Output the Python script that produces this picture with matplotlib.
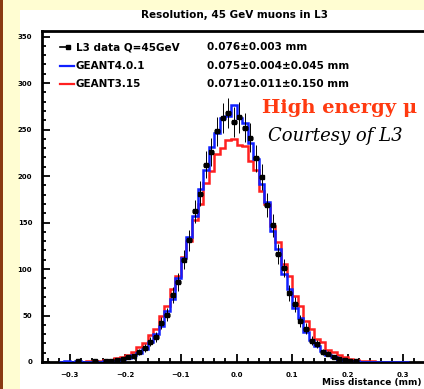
import numpy as np
import matplotlib
matplotlib.use("Agg")
import matplotlib.pyplot as plt
from matplotlib.patches import Rectangle
from matplotlib.lines import Line2D

# bin edges (0.01 wide) and counts per bin
bin_lo = -0.32
bin_w = 0.01
data_l3 = [0, 0, 0, 1, 0, 0, 1,
           0, 1, 1, 2, 3, 5, 6, 11, 15, 22, 27, 42, 51, 72, 86, 110, 131, 162, 181,
           212, 226, 248, 262, 268, 258, 263, 252, 241, 219, 199, 169, 147, 116, 101,
           74, 62, 44, 36, 23, 19, 11, 9, 5, 3, 2, 1, 1, 0, 0,
           0, 0, 0, 0, 0, 0, 0]
geant4 = [0, 1, 0, 1, 0, 0, 0,
          0, 1, 1, 1, 3, 4, 7, 10, 14, 21, 30, 39, 55, 68, 90, 112, 134, 157, 186,
          206, 231, 246, 262, 265, 276, 262, 257, 236, 218, 191, 172, 141, 121, 95,
          78, 58, 47, 32, 24, 17, 12, 8, 5, 3, 2, 1, 1, 0, 0,
          0, 0, 0, 0, 0, 0, 0]
geant3 = [0, 0, 0, 0, 0, 1, 1,
          1, 2, 2, 4, 5, 8, 11, 16, 20, 29, 36, 50, 60, 78, 92, 113, 130, 153, 170,
          192, 205, 224, 230, 239, 240, 233, 232, 216, 206, 184, 170, 146, 129, 105,
          92, 71, 60, 44, 36, 25, 21, 13, 11, 7, 5, 3, 2, 1, 1,
          1, 0, 0, 0, 0, 0, 0]

legend_names = ["L3 data Q=45GeV", "GEANT4.0.1", "GEANT3.15"]
legend_vals = ["0.076\u00b10.003 mm", "0.075\u00b10.004\u00b10.045 mm",
               "0.071\u00b10.011\u00b10.150 mm"]
x_ticks = [-0.3, -0.2, -0.1, 0, 0.1, 0.2, 0.3]
y_ticks = [0, 50, 100, 150, 200, 250, 300, 350]

edges = bin_lo + bin_w * np.arange(len(data_l3) + 1)
centers = 0.5 * (edges[:-1] + edges[1:])

fig = plt.figure(figsize=(4.24, 3.89), dpi=100)
fig.patch.set_facecolor("#fffdd2")
# white panel and brown border strip
fig.patches.append(Rectangle((20 / 424, 0), 1, 1 - 10 / 389, transform=fig.transFigure,
                             facecolor="white", edgecolor="none", zorder=-5))
fig.patches.append(Rectangle((0, 0), 3 / 424, 1, transform=fig.transFigure,
                             facecolor="#8a3a12", edgecolor="none", zorder=-5))

ax = fig.add_axes([42 / 424, 1 - 362 / 389, (431 - 42) / 424, (362 - 31) / 389])
ax.set_zorder(2)
ax.set_facecolor("white")

ax.stairs(geant3, edges, color="#ff2020", lw=1.8, zorder=2)
ax.stairs(geant4, edges, color="#1020ff", lw=1.8, zorder=3)
counts = np.array(data_l3)
dm = counts > 0
# data points: thick horizontal bin bars, thin vertical error bars
ax.errorbar(centers[dm], counts[dm], yerr=np.sqrt(counts[dm]), fmt="none",
            ecolor="black", elinewidth=0.7, capsize=0, zorder=4)
ax.errorbar(centers[dm], counts[dm], xerr=bin_w / 2, fmt="s", color="black",
            ms=2.2, elinewidth=2, capsize=0, zorder=4)

ax.set_xlim(-0.35, 0.35)
ax.set_ylim(0, 356)
ax.set_xticks(x_ticks)
ax.set_yticks(y_ticks)
ax.set_xticks(np.arange(-0.34, 0.35, 0.02), minor=True)
ax.set_yticks(np.arange(0, 356, 10), minor=True)
ax.tick_params(which="both", direction="in", width=1.3, labelsize=5)
ax.tick_params(which="major", length=6, pad=7)
ax.tick_params(which="minor", length=3)
for lab in ax.get_xticklabels() + ax.get_yticklabels():
    lab.set_fontweight("bold")
for s in ax.spines.values():
    s.set_linewidth(2)

fig.text(234 / 424, 1 - 15 / 389, "Resolution, 45 GeV muons in L3", ha="center",
         va="center", fontsize=7.5, fontweight="bold", zorder=5)
fig.text(421 / 424, 1 - 383 / 389, "Miss distance (mm)", ha="right", va="center",
         fontsize=6.5, fontweight="bold", zorder=5)

# legend drawn by hand
rows_y = [47, 66, 84]
styles = [("black", "s"), ("#1020ff", None), ("#ff2020", None)]
for yy, (col, mk), name, val in zip(rows_y, styles, legend_names, legend_vals):
    yf = 1 - yy / 389
    if mk:
        fig.lines.append(Line2D([60 / 424, 68 / 424], [yf, yf], color=col, lw=1.2,
                                marker="s", markersize=2.5, markevery=[1],
                                transform=fig.transFigure, zorder=5))
    else:
        fig.lines.append(Line2D([60 / 424, 74 / 424], [yf, yf], color=col, lw=1.6,
                                transform=fig.transFigure, zorder=5))
    fig.text(76 / 424, yf, name, ha="left", va="center", fontsize=7.5,
             fontweight="bold", zorder=5)
    fig.text(207 / 424, yf, val, ha="left", va="center", fontsize=7.5,
             fontweight="bold", zorder=5)

fig.text(262 / 424, 1 - 108 / 389, "High energy \u03bc", ha="left", va="center",
         fontsize=14, fontweight="bold", color="#ff3a10", family="DejaVu Serif",
         zorder=5)
fig.text(268 / 424, 1 - 136 / 389, "Courtesy of L3", ha="left", va="center",
         fontsize=13, style="italic", color="black", family="DejaVu Serif",
         zorder=5)

fig.savefig("out.png", dpi=100, facecolor=fig.get_facecolor())
